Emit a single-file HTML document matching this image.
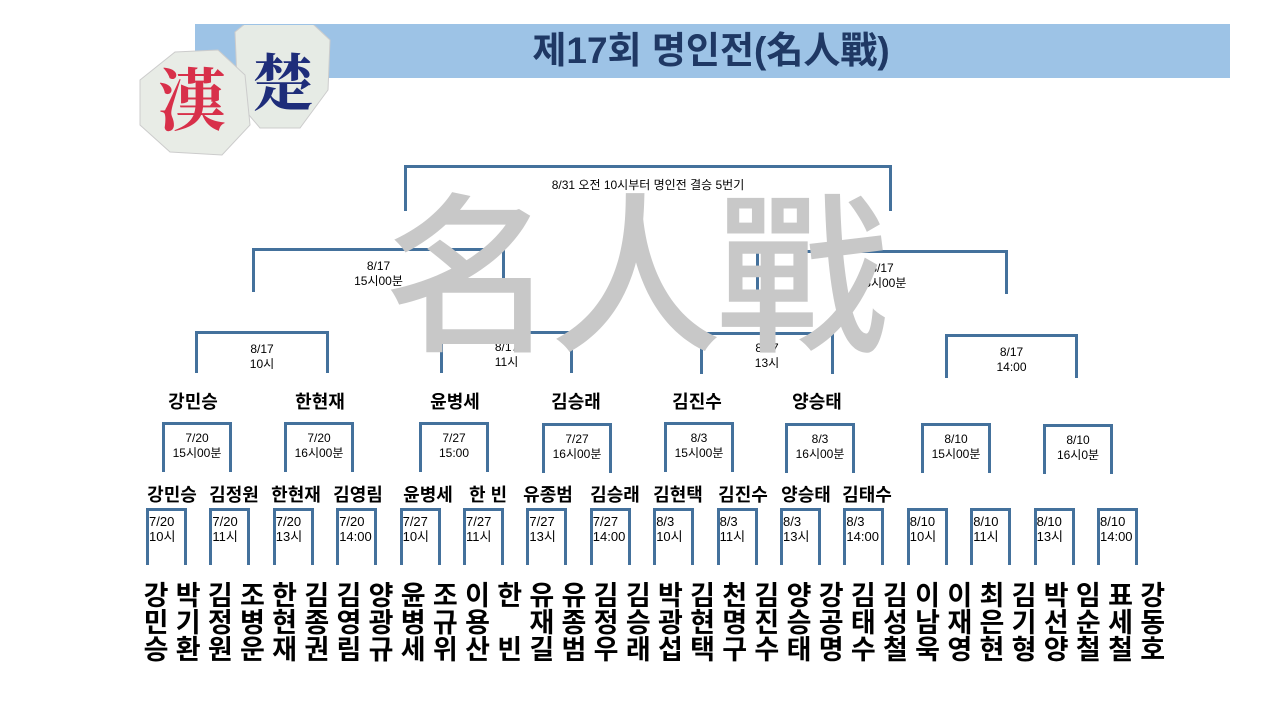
<!DOCTYPE html>
<html><head><meta charset="utf-8">
<style>
body{margin:0;width:1280px;height:720px;background:#fff;position:relative;overflow:hidden;font-family:"Liberation Sans","Noto Sans CJK KR",sans-serif;}
.a{position:absolute;}
.b{position:absolute;border:3px solid #44719c;border-bottom:none;box-sizing:border-box;text-align:center;font-size:12px;line-height:15px;color:#000;}
.n{position:absolute;font-weight:bold;font-size:18px;color:#000;transform:translateX(-50%);white-space:nowrap;}
.c{position:absolute;font-weight:bold;font-size:27px;line-height:27px;color:#000;transform:translateX(-50%);text-align:center;width:30px;}
</style></head><body>
<div class="a" style="left:195px;top:24px;width:1035px;height:54px;background:#9dc3e6;"></div>
<div class="a" style="left:411px;top:28px;width:600px;text-align:center;font-size:37px;font-weight:bold;color:#1f3864;line-height:46px;">제17회 명인전(名人戰)</div>
<svg class="a" style="left:130px;top:25px" width="210" height="140">
<polygon points="235,32 262,10 300,12 330,40 328,90 300,128 260,128 238,102" transform="translate(-130,-25)" fill="#e6ebe5" stroke="#ccc"/>
<polygon points="140,80 175,52 218,50 245,75 250,125 222,155 170,152 140,125" transform="translate(-130,-25)" fill="#e8ece6" stroke="#ccc"/>
<text x="62" y="100" font-size="68" font-weight="bold" fill="#d8304a" text-anchor="middle" font-family="Noto Serif CJK SC,serif">漢</text>
<text x="153" y="80" font-size="62" font-weight="bold" fill="#1e2d7a" text-anchor="middle" font-family="Noto Serif CJK SC,serif">楚</text>
</svg>

<div class="b" style="left:404px;top:165px;width:488px;height:46px;padding-top:10px;">8/31 오전 10시부터 명인전 결승 5번기</div>
<div class="b" style="left:252px;top:248px;width:253px;height:44px;padding-top:8px;">8/17<br>15시00분</div>
<div class="b" style="left:756px;top:250px;width:252px;height:44px;padding-top:8px;">8/17<br>15시00분</div>
<div class="b" style="left:195px;top:331px;width:134px;height:42px;padding-top:8px;">8/17<br>10시</div>
<div class="b" style="left:440px;top:331px;width:133px;height:42px;padding-top:6px;">8/17<br>11시</div>
<div class="b" style="left:700px;top:332px;width:134px;height:42px;padding-top:6px;">8/17<br>13시</div>
<div class="b" style="left:945px;top:334px;width:133px;height:44px;padding-top:8px;">8/17<br>14:00</div>

<div class="a" style="left:384px;top:168px;font-size:172px;line-height:190px;color:#c8c8c8;font-family:'Noto Sans CJK SC',sans-serif;font-weight:500;letter-spacing:-6px;">名人戰</div>

<div class="n" style="left:193px;top:388px">강민승</div>
<div class="n" style="left:320px;top:388px">한현재</div>
<div class="n" style="left:455px;top:388px">윤병세</div>
<div class="n" style="left:576px;top:388px">김승래</div>
<div class="n" style="left:697px;top:388px">김진수</div>
<div class="n" style="left:817px;top:388px">양승태</div>

<div class="b" style="left:162px;top:422px;width:70px;height:50px;padding-top:6px;">7/20<br>15시00분</div>
<div class="b" style="left:284px;top:422px;width:70px;height:50px;padding-top:6px;">7/20<br>16시00분</div>
<div class="b" style="left:419px;top:422px;width:70px;height:50px;padding-top:6px;">7/27<br>15:00</div>
<div class="b" style="left:542px;top:423px;width:70px;height:50px;padding-top:6px;">7/27<br>16시00분</div>
<div class="b" style="left:664px;top:422px;width:70px;height:50px;padding-top:6px;">8/3<br>15시00분</div>
<div class="b" style="left:785px;top:423px;width:70px;height:50px;padding-top:6px;">8/3<br>16시00분</div>
<div class="b" style="left:921px;top:423px;width:70px;height:50px;padding-top:6px;">8/10<br>15시00분</div>
<div class="b" style="left:1043px;top:424px;width:70px;height:50px;padding-top:6px;">8/10<br>16시0분</div>

<div class="n" style="left:172px;top:481px">강민승</div>
<div class="n" style="left:234px;top:481px">김정원</div>
<div class="n" style="left:296px;top:481px">한현재</div>
<div class="n" style="left:358px;top:481px">김영림</div>
<div class="n" style="left:428px;top:481px">윤병세</div>
<div class="n" style="left:488px;top:481px">한 빈</div>
<div class="n" style="left:548px;top:481px">유종범</div>
<div class="n" style="left:615px;top:481px">김승래</div>
<div class="n" style="left:678px;top:481px">김현택</div>
<div class="n" style="left:743px;top:481px">김진수</div>
<div class="n" style="left:806px;top:481px">양승태</div>
<div class="n" style="left:867px;top:481px">김태수</div>

<div id="r1"></div>
<div id="cols"></div>
<script>
var d=["7/20<br>10시","7/20<br>11시","7/20<br>13시","7/20<br>14:00","7/27<br>10시","7/27<br>11시","7/27<br>13시","7/27<br>14:00","8/3<br>10시","8/3<br>11시","8/3<br>13시","8/3<br>14:00","8/10<br>10시","8/10<br>11시","8/10<br>13시","8/10<br>14:00"];
var h="";
for(var i=0;i<16;i++){var x=146+i*63.4;h+='<div class="b" style="left:'+x+'px;top:508px;width:41px;height:57px;padding-top:3px;text-align:left;font-size:13px;">'+d[i]+'</div>';}
document.getElementById("r1").innerHTML=h;
var n=["강민승","박기환","김정원","조병운","한현재","김종권","김영림","양광규","윤병세","조규위","이용산","한 빈","유재길","유종범","김정우","김승래","박광섭","김현택","천명구","김진수","양승태","강공명","김태수","김성철","이남욱","이재영","최은현","김기형","박선양","임순철","표세철","강동호"];
h="";
for(var i=0;i<32;i++){var x=156+i*32.15;var s=n[i].split("");h+='<div class="c" style="left:'+x+'px;top:583px">'+s[0]+'<br>'+(s[1]==" "?"&nbsp;":s[1])+'<br>'+s[2]+'</div>';}
document.getElementById("cols").innerHTML=h;
</script>
</body></html>
